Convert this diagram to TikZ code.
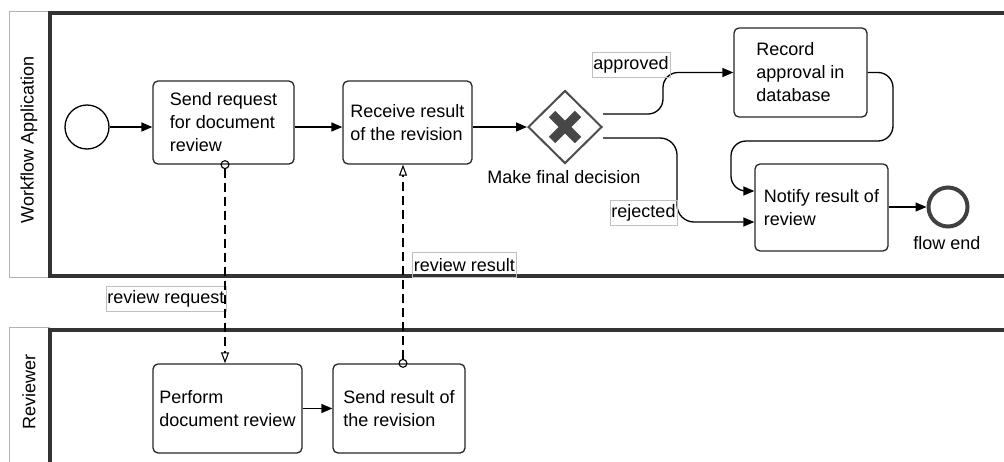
\documentclass[tikz,border=0pt]{standalone}
\usepackage{fontspec}
\setmainfont{Liberation Sans}
\usetikzlibrary{arrows.meta,shapes.geometric,calc}
\begin{document}
\begin{tikzpicture}[x=1pt,y=-1pt,
  font=\fontsize{18}{23}\selectfont,
  lanebox/.style={draw=black!80, line width=3.2pt},
  lanelabel/.style={draw=black!30, line width=1pt},
  lanetext/.style={rotate=90, inner sep=0pt},
  task/.style={draw=black!85, line width=1.3pt, rounded corners=5pt, align=left, inner sep=0pt, fill=white},
  seq/.style={draw=black, line width=1.3pt, -{Triangle[length=11pt,width=9pt]}},
  msg/.style={draw=black, line width=1.1pt, dash pattern=on 9pt off 5pt,
     {Circle[open,length=9pt,width=9pt,line width=1.1pt]}-{Triangle[open,length=11pt,width=8pt,line width=1.1pt]},
     shorten <=-4.5pt},
  flowlabel/.style={draw=black!25, line width=0.8pt, inner xsep=1.5pt, inner ysep=0pt, minimum height=25pt},
  plainlabel/.style={inner sep=0pt}
]
\useasboundingbox (0,0) rectangle (1004,461);
% pools / lanes
\draw[lanelabel] (9,11) rectangle (49,277);
\draw[lanelabel] (9,327) rectangle (49,475);
\draw[lanebox] (50,13) rectangle (1015,276);
\draw[lanebox] (50,330) rectangle (1015,480);
\node[lanetext] (lane1) at (29,140) {Workflow Application};
\node[lanetext] (lane2) at (29,392) {Reviewer};

% events
\node[circle, draw=black, line width=1.3pt, minimum size=44pt, inner sep=0pt] (start) at (87,127) {};
\node[circle, draw=black!75, line width=4pt, minimum size=39pt, inner sep=0pt] (end) at (948,207) {};
\node[plainlabel] (endlbl) at (947,243) {flow end};

% tasks
\node[task, minimum width=141pt, minimum height=83pt] (t1) at (223.5,122.5) {Send request\\for document\\review};
\node[task, minimum width=129pt, minimum height=83pt] (t2) at (407.5,122.5) {Receive result\\of the revision};
\node[task, minimum width=133pt, minimum height=89pt] (t3) at (800.5,72.5) {Record\\approval in\\database};
\node[task, minimum width=133pt, minimum height=87pt] (t4) at (821.5,207.5) {Notify result of\\review};
\node[task, minimum width=149pt, minimum height=89pt] (t5) at (227.5,408.5) {Perform\\document review};
\node[task, minimum width=132pt, minimum height=89pt] (t6) at (399,408.5) {Send result of\\the revision};

% gateway
\node[diamond, draw=black!70, line width=2pt, minimum width=74pt, minimum height=73pt, inner sep=0pt, fill=white] (gw) at (565,127) {};
\draw[black!72, line width=9pt] ($(gw.center)+(-13,-13)$) -- ($(gw.center)+(13,13)$);
\draw[black!72, line width=9pt] ($(gw.center)+(-13,13)$) -- ($(gw.center)+(13,-13)$);
\node[plainlabel] (gwlbl) at (564,177) {Make final decision};

% sequence flows
\draw[seq] (start.east) -- (start.east -| t1.west);
\draw[seq] (t1.east |- start.east) -- (t2.west |- start.east);
\draw[seq] (t2.east |- gw.west) -- (gw.west);
\coordinate (gwA) at ($(gw.east)+(0,-13)$);
\coordinate (gwR) at ($(gw.east)+(0,11)$);
\coordinate (t4a) at ($(t4.west)+(0,-16.5)$);
\coordinate (t4r) at ($(t4.west)+(0,14.5)$);
\draw[seq, rounded corners=15pt] (gwA) -- (663,114) -- (663,72.5) -- (t3.west);
\draw[seq, rounded corners=17pt] (gwR) -- (677,138) -- (677,222) -- (t4r);
\draw[seq, rounded corners=15pt] (t3.east) -- (893,72.5) -- (893,141) -- (731,141) -- (731,191) -- (t4a);
\draw[seq] (t4.east |- end.west) -- (end.west);
\draw[seq] (t5.east |- t5.center) -- (t6.west |- t5.center);

% labels on flows
\node[flowlabel] (lapp) at (631,65) {approved};
\node[flowlabel] (lrej) at (643.5,213) {rejected};
\node[flowlabel] (lreq) at (166,298.5) {review request};
\node[flowlabel] (lres) at (464.5,265) {review result};

% message flows
\coordinate (m1) at (225,0);
\coordinate (m2) at (403,0);
\draw[msg] (t1.south -| m1) -- (t5.north -| m1);
\draw[msg] (t6.north -| m2) -- (t2.south -| m2);
\end{tikzpicture}
\end{document}
